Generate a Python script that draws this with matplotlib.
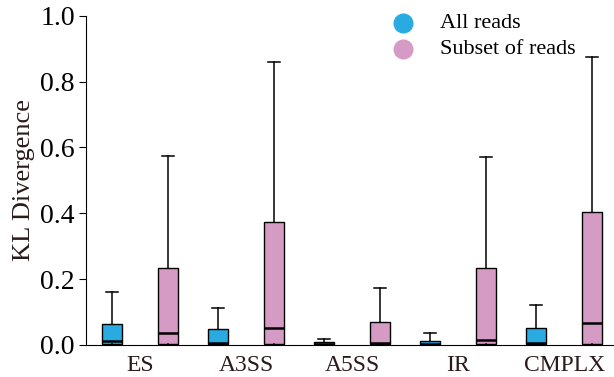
import matplotlib.pyplot as plt
import numpy as np

plt.rcParams['font.family'] = ['Liberation Serif', 'DejaVu Serif']

categories = ['ES', 'A3SS', 'A5SS', 'IR', 'CMPLX']

# all reads: q1, median, q3, upper whisker
all_q1 = [0.002, 0.002, 0.001, 0.001, 0.002]
all_med = [0.012, 0.007, 0.003, 0.003, 0.006]
all_q3 = [0.065, 0.049, 0.008, 0.013, 0.051]
all_hi = [0.161, 0.112, 0.018, 0.036, 0.122]

# subset of reads
sub_q1 = [0.003, 0.003, 0.002, 0.003, 0.003]
sub_med = [0.036, 0.051, 0.006, 0.015, 0.066]
sub_q3 = [0.234, 0.374, 0.070, 0.235, 0.404]
sub_hi = [0.574, 0.860, 0.173, 0.571, 0.875]

blue = '#29ABE2'
pink = '#D59BC4'


def make_stats(q1, med, q3, hi):
    return [dict(whislo=0.0, q1=a, med=b, q3=c, whishi=d, fliers=[])
            for a, b, c, d in zip(q1, med, q3, hi)]


fig = plt.figure(figsize=(6.14, 3.77), dpi=100)
ax = fig.add_axes([0.14, 0.085, 0.86, 0.873])

x = np.arange(len(categories))
off = 0.264
w = 0.19

for stats, pos, col in [(make_stats(all_q1, all_med, all_q3, all_hi), x - off, blue),
                        (make_stats(sub_q1, sub_med, sub_q3, sub_hi), x + off, pink)]:
    ax.bxp(stats, positions=pos, widths=w, patch_artist=True, showfliers=False,
           boxprops=dict(facecolor=col, edgecolor='black', linewidth=1),
           medianprops=dict(color='black', linewidth=1.8),
           whiskerprops=dict(color='black', linewidth=1.1),
           capprops=dict(color='black', linewidth=1.1),
           capwidths=w * 0.6)

ax.set_xlim(-0.51, 4.47)
ax.set_ylim(0, 1.0)
ax.set_xticks(x)
ax.set_xticklabels(categories, fontsize=17, color='#2a1a1a')
ax.tick_params(axis='x', length=0, pad=7)
ax.set_yticks([0, 0.2, 0.4, 0.6, 0.8, 1.0])
ax.set_yticklabels(['0.0', '0.2', '0.4', '0.6', '0.8', '1.0'], fontsize=20, color='black')
ax.tick_params(axis='y', length=5, pad=3)
ax.set_ylabel('KL Divergence', fontsize=19, color='#2a1a1a', labelpad=4)
ax.spines['top'].set_visible(False)
ax.spines['right'].set_visible(False)

h1 = ax.scatter([], [], s=180, color=blue, label='All reads')
h2 = ax.scatter([], [], s=180, color=pink, label='Subset of reads')
ax.legend(handles=[h1, h2], loc='upper right', bbox_to_anchor=(0.965, 1.07),
          frameon=False, fontsize=16, handletextpad=0.64, labelspacing=0.25)

fig.savefig('out.png', dpi=100)
